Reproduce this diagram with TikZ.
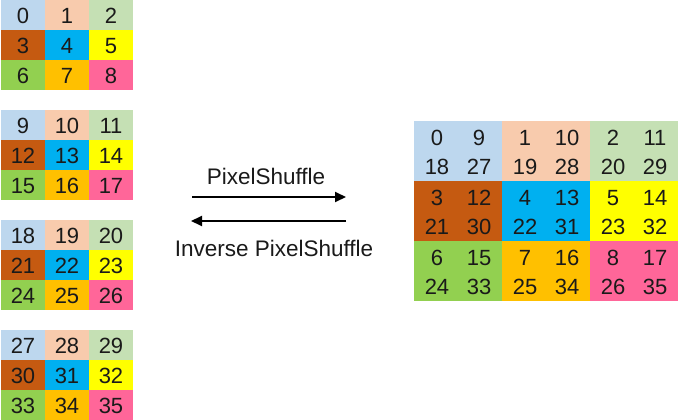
\documentclass[tikz,border=0pt]{standalone}
\usepackage{fontspec}
\setmainfont{Liberation Sans}
\usetikzlibrary{arrows.meta}
\definecolor{c0}{HTML}{BDD7EE}
\definecolor{c1}{HTML}{F8CBAD}
\definecolor{c2}{HTML}{C5E0B4}
\definecolor{c3}{HTML}{C55A11}
\definecolor{c4}{HTML}{00B0F0}
\definecolor{c5}{HTML}{FFFF00}
\definecolor{c6}{HTML}{92D050}
\definecolor{c7}{HTML}{FFC000}
\definecolor{c8}{HTML}{FF6699}
\definecolor{txt}{HTML}{1A1A1A}
\tikzset{
  cellbox/.style={fill=c#1, draw=none},
  numtxt/.style={font=\fontsize{22}{22}\selectfont, text=txt, inner sep=0pt, anchor=center},
  lbl/.style={font=\fontsize{22.5}{22.5}\selectfont, text=txt, inner sep=0pt, anchor=center},
  conn/.style={line width=2pt, -{Triangle[length=11pt,width=10pt]}}
}
\begin{document}
\begin{tikzpicture}[x=1pt,y=-1pt]
\useasboundingbox (0,0) rectangle (678,420);
\fill[white] (0,0) rectangle (678,420);
% left grids
\foreach \g in {0,1,2,3}{
  \foreach \r in {0,1,2}{
    \foreach \c in {0,1,2}{
      \pgfmathtruncatemacro{\k}{3*\r+\c}
      \pgfmathtruncatemacro{\v}{9*\g+3*\r+\c}
      \fill[cellbox=\k] ({1+44*\c},{110*\g+30*\r}) rectangle ({1+44*(\c+1)},{110*\g+30*(\r+1)});
      \node[numtxt] (L\v) at ({1+44*\c+22},{110*\g+30*\r+16}) {\v};
    }
  }
}
% right grid
\foreach \r in {0,1,2}{
  \foreach \c in {0,1,2}{
    \pgfmathtruncatemacro{\k}{3*\r+\c}
    \fill[cellbox=\k] ({414+88*\c},{121+60*\r}) rectangle ({414+88*(\c+1)},{121+60*(\r+1)});
    \foreach \i in {0,1}{
      \foreach \j in {0,1}{
        \pgfmathtruncatemacro{\v}{3*\r+\c+9*(2*\i+\j)}
        \node[numtxt] (R\v) at ({414+88*\c+23+42*\j},{121+60*\r+17+29*\i}) {\v};
      }
    }
  }
}
% arrows and labels
\coordinate (a1s) at (192,197);
\coordinate (a1e) at (346,197);
\coordinate (a2s) at (346,221);
\coordinate (a2e) at (191,221);
\draw[conn] (a1s) -- (a1e);
\draw[conn] (a2s) -- (a2e);
\node[lbl] (ps) at (266,176) {PixelShuffle};
\node[lbl] (ips) at (274,248) {Inverse PixelShuffle};
\end{tikzpicture}
\end{document}
